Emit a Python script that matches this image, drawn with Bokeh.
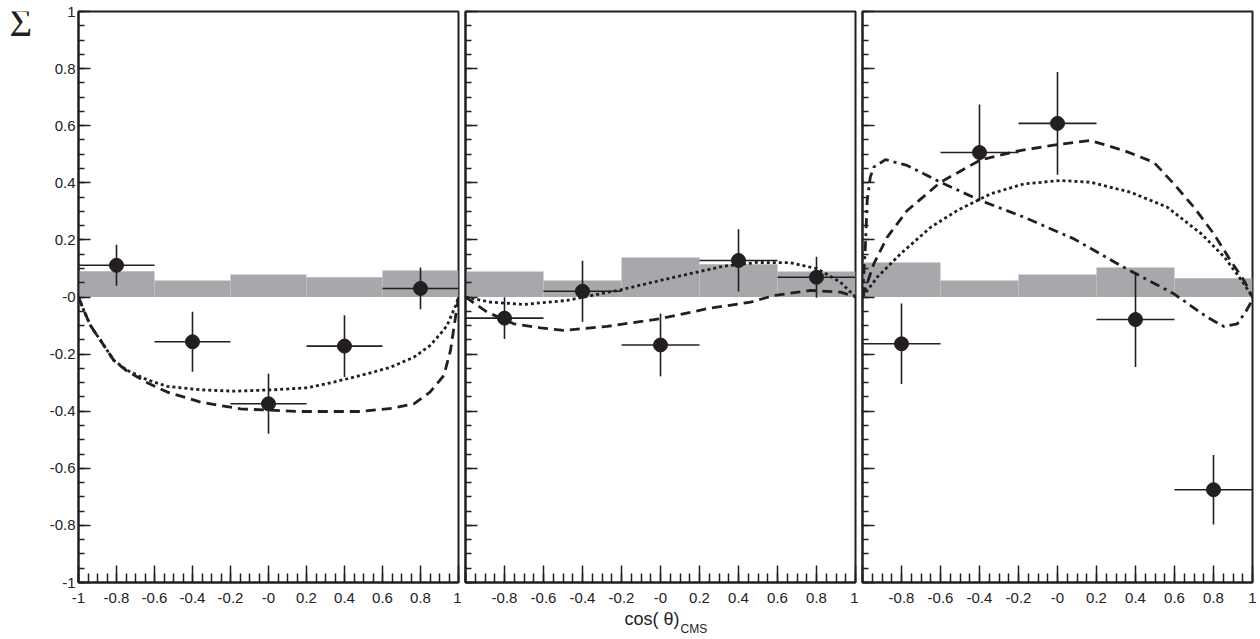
from bokeh.plotting import figure
from bokeh.layouts import row, column
from bokeh.models import Range1d, FixedTicker
from bokeh.core.properties import value
from bokeh.embed import file_html
from bokeh.resources import INLINE

# ---------------- data ----------------
bin_left = [-1.0, -0.6, -0.2, 0.2, 0.6]
bin_right = [-0.6, -0.2, 0.2, 0.6, 1.0]
pt_x = [-0.8, -0.4, 0.0, 0.4, 0.8]
x_half = 0.2

# panel 1
p1_y = [0.111, -0.157, -0.374, -0.172, 0.030]
p1_err = [0.072, 0.105, 0.105, 0.108, 0.073]
p1_sys = [0.090, 0.058, 0.079, 0.069, 0.093]
p1_dot_x = [-1.0, -0.97, -0.937, -0.884, -0.814, -0.744, -0.638, -0.533, -0.358, -0.183, 0.028, 0.204, 0.344, 0.519, 0.642, 0.765, 0.85, 0.905, 0.94, 0.966, 0.985, 1.0]
p1_dot_y = [0.0, -0.05, -0.10, -0.152, -0.222, -0.257, -0.29, -0.313, -0.325, -0.330, -0.325, -0.318, -0.298, -0.269, -0.246, -0.211, -0.17, -0.129, -0.10, -0.059, -0.03, 0.0]
p1_dash_x = [-1.0, -0.97, -0.937, -0.884, -0.814, -0.744, -0.638, -0.533, -0.358, -0.147, 0.168, 0.484, 0.65, 0.765, 0.85, 0.923, 0.958, 0.984, 1.0]
p1_dash_y = [0.0, -0.05, -0.10, -0.152, -0.222, -0.26, -0.30, -0.333, -0.368, -0.392, -0.401, -0.401, -0.39, -0.374, -0.333, -0.275, -0.187, -0.071, 0.0]

# panel 2
p2_y = [-0.074, 0.020, -0.168, 0.128, 0.069]
p2_err = [0.073, 0.107, 0.110, 0.109, 0.072]
p2_sys = [0.089, 0.058, 0.138, 0.115, 0.089]
p2_dot_x = [-1.0, -0.93, -0.872, -0.701, -0.479, -0.393, -0.205, 0.068, 0.325, 0.496, 0.667, 0.803, 0.923, 1.0]
p2_dot_y = [0.0, -0.01, -0.018, -0.026, -0.012, 0.0, 0.025, 0.069, 0.108, 0.121, 0.12, 0.099, 0.052, 0.0]
p2_dash_x = [-1.0, -0.889, -0.752, -0.615, -0.496, -0.274, 0.0, 0.239, 0.462, 0.581, 0.769, 0.923, 1.0]
p2_dash_y = [0.0, -0.053, -0.094, -0.108, -0.117, -0.103, -0.076, -0.041, -0.018, 0.005, 0.023, 0.017, 0.0]

# panel 3
p3_y = [-0.164, 0.506, 0.608, -0.079, -0.675]
p3_err = [0.141, 0.168, 0.180, 0.166, 0.122]
p3_sys = [0.121, 0.058, 0.079, 0.103, 0.066]
p3_dot_x = [-1.0, -0.925, -0.805, -0.651, -0.514, -0.344, -0.173, 0.015, 0.169, 0.374, 0.562, 0.738, 0.857, 0.944, 1.0]
p3_dot_y = [0.0, 0.069, 0.151, 0.244, 0.303, 0.361, 0.396, 0.408, 0.402, 0.367, 0.315, 0.221, 0.139, 0.058, 0.0]
p3_dash_x = [-1.0, -0.942, -0.874, -0.771, -0.600, -0.395, -0.207, -0.001, 0.169, 0.340, 0.494, 0.597, 0.699, 0.802, 0.887, 0.956, 1.0]
p3_dash_y = [0.0, 0.116, 0.209, 0.303, 0.402, 0.480, 0.511, 0.534, 0.548, 0.513, 0.472, 0.396, 0.315, 0.221, 0.128, 0.058, 0.0]
p3_dd_x = [-1.0, -0.985, -0.976, -0.96, -0.942, -0.882, -0.771, -0.6, -0.395, -0.173, 0.083, 0.34, 0.597, 0.768, 0.853, 0.922, 0.964, 0.998, 1.0]
p3_dd_y = [0.0, 0.18, 0.338, 0.42, 0.455, 0.481, 0.461, 0.402, 0.338, 0.280, 0.204, 0.104, 0.011, -0.071, -0.103, -0.094, -0.053, -0.012, 0.0]

# ticks
x_major = [-1.0, -0.8, -0.6, -0.4, -0.2, 0.0, 0.2, 0.4, 0.6, 0.8, 1.0]
x_labels = ["-1", "-0.8", "-0.6", "-0.4", "-0.2", "-0", "0.2", "0.4", "0.6", "0.8", "1"]
y_major = [-1.0, -0.8, -0.6, -0.4, -0.2, 0.0, 0.2, 0.4, 0.6, 0.8, 1.0]
y_labels = ["-1", "-0.8", "-0.6", "-0.4", "-0.2", "-0", "0.2", "0.4", "0.6", "0.8", "1"]
minor = [round(-1.0 + 0.05 * i, 2) for i in range(41)]

y_title = "Σ"
x_title = "cos( θ)"
x_title_sub = "CMS"

INK = "#231f20"
GRAY = "#a7a8ab"
FONT = "Liberation Sans"


def make_panel(first, width, height, bl, br, bb, ys, errs, sys, curves):
    p = figure(width=width, height=height,
               x_range=Range1d(-1, 1), y_range=Range1d(-1, 1),
               output_backend="svg", toolbar_location=None,
               min_border_left=bl, min_border_right=br,
               min_border_top=11, min_border_bottom=bb)
    p.grid.visible = False
    p.outline_line_color = INK
    p.outline_line_width = 2
    p.background_fill_color = "white"
    p.border_fill_color = "white"

    xa = p.xaxis[0]
    xa.ticker = FixedTicker(ticks=x_major, minor_ticks=minor)
    labs = list(x_labels)
    if not first:
        labs[0] = ""
    xa.major_label_overrides = {t: l for t, l in zip(x_major, labs)}
    xa.major_tick_in = 17
    xa.major_tick_out = 0
    xa.minor_tick_in = 9
    xa.minor_tick_out = 0
    xa.major_tick_line_color = INK
    xa.minor_tick_line_color = INK
    xa.major_tick_line_width = 1.5
    xa.minor_tick_line_width = 1.5
    xa.axis_line_color = INK
    xa.axis_line_width = 2
    xa.major_label_standoff = 10
    xa.major_label_text_font = FONT
    xa.major_label_text_font_size = "15px"
    xa.major_label_text_color = "#222222"

    ya = p.yaxis[0]
    ya.ticker = FixedTicker(ticks=y_major, minor_ticks=minor)
    ya.major_tick_in = 12
    ya.major_tick_out = 0
    ya.minor_tick_in = 6
    ya.minor_tick_out = 0
    ya.major_tick_line_color = INK
    ya.minor_tick_line_color = INK
    ya.major_tick_line_width = 1.5
    ya.minor_tick_line_width = 1.5
    ya.axis_line_color = INK
    ya.axis_line_width = 2
    ya.major_label_text_font = FONT
    if first:
        ya.major_label_overrides = {t: l for t, l in zip(y_major, y_labels)}
        ya.major_label_standoff = 3
        ya.major_label_text_font_size = "15px"
        ya.major_label_text_color = "#222222"
    else:
        ya.major_label_overrides = {t: "" for t in y_major}
        ya.major_label_standoff = 0
        ya.major_label_text_font_size = "0px"

    # systematic band
    p.quad(left=bin_left, right=bin_right, bottom=0, top=sys,
           fill_color=GRAY, line_color=None)

    # theory curves
    for cx, cy, dash in curves:
        p.line(cx, cy, line_color=INK, line_width=2.8, line_dash=dash)

    # data with error bars
    p.segment(x0=[x - x_half for x in pt_x], x1=[x + x_half for x in pt_x],
              y0=ys, y1=ys, line_color=INK, line_width=1.6)
    p.segment(x0=pt_x, x1=pt_x, y0=[y - e for y, e in zip(ys, errs)],
              y1=[y + e for y, e in zip(ys, errs)], line_color=INK, line_width=1.6)
    p.scatter(pt_x, ys, size=14, fill_color=INK, line_color=INK, marker="circle")
    return p


def blank(width, height, xr, yr, bl=0, br=0):
    f = figure(width=width, height=height, x_range=xr, y_range=yr,
               output_backend="svg", toolbar_location=None,
               min_border_left=bl, min_border_right=br,
               min_border_top=0, min_border_bottom=0)
    f.axis.visible = False
    f.grid.visible = False
    f.outline_line_color = None
    f.background_fill_color = "white"
    f.border_fill_color = "white"
    return f


# y-axis title strip (left of panel 1)
sig = blank(40, 636, Range1d(0, 40), Range1d(636, 0))
sig.text(x=[9], y=[12], text=[y_title], text_align="left", text_baseline="alphabetic",
         text_font=value("Liberation Serif"), text_font_size="39px", text_color=INK)

p1 = make_panel(True, 421, 636, 38, 3, 54, p1_y, p1_err, p1_sys,
                [(p1_dot_x, p1_dot_y, "3 3"), (p1_dash_x, p1_dash_y, "10 6")])
p2 = make_panel(False, 397, 609, 4, 3, 27, p2_y, p2_err, p2_sys,
                [(p2_dot_x, p2_dot_y, "3 3"), (p2_dash_x, p2_dash_y, "10 6")])
p3 = make_panel(False, 400, 636, 4, 6, 54, p3_y, p3_err, p3_sys,
                [(p3_dot_x, p3_dot_y, "3 3"), (p3_dash_x, p3_dash_y, "10 6"),
                 (p3_dd_x, p3_dd_y, "10 5 3 5")])

# x-axis title strip under panel 2 (same horizontal mapping as panel 2)
xt = blank(397, 27, Range1d(-1, 1), Range1d(27, 0), bl=4, br=3)
xt.text(x=[0.097], y=[9], text=[x_title], text_align="right", text_baseline="alphabetic",
        text_font=value(FONT), text_font_size="18px", text_color="#222222")
xt.text(x=[0.103], y=[19], text=[x_title_sub], text_align="left", text_baseline="alphabetic",
        text_font=value(FONT), text_font_size="12px", text_color="#222222")

layout = row(sig, p1, column(p2, xt, spacing=0), p3, spacing=0)
open("out.html", "w").write(file_html(layout, INLINE))
